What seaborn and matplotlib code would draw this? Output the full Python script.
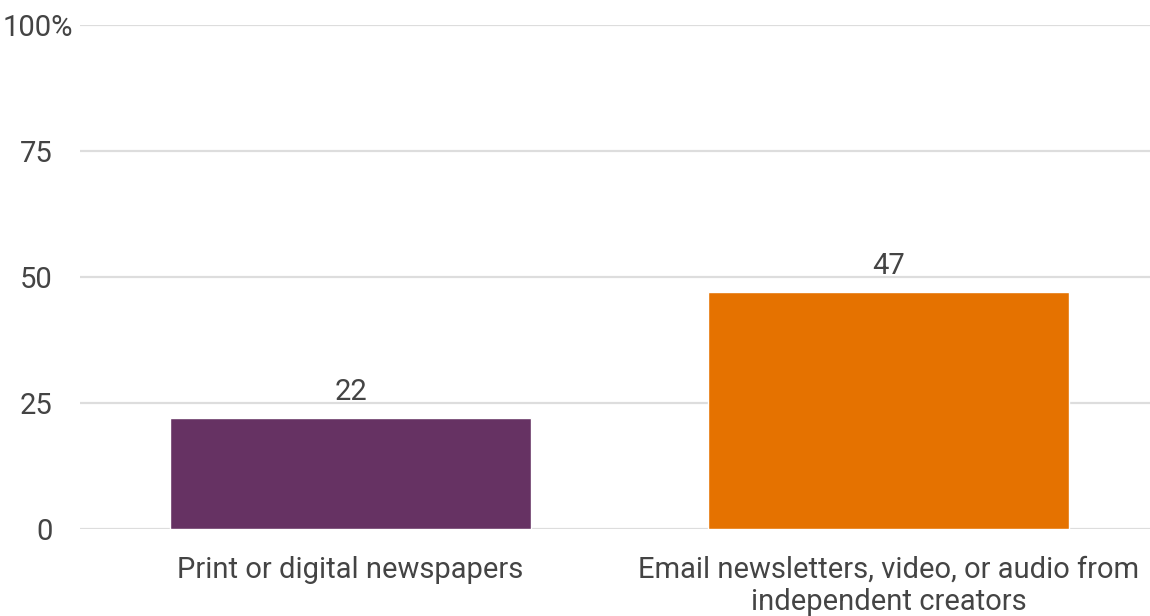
import matplotlib.pyplot as plt
import matplotlib.transforms as mtransforms
import seaborn as sns
import pandas as pd

categories = ['Print or digital newspapers',
              'Email newsletters, video, or audio from\nindependent creators']
values = [22, 47]
bar_colors = ['#663263', '#E57200']
yticks = [0, 25, 50, 75, 100]
ytick_labels = ['0', '25', '50', '75', '100%']

sns.set_style('white')
plt.rcParams['font.family'] = ['Roboto', 'DejaVu Sans']

df = pd.DataFrame({'source': categories, 'pct': values})

fig = plt.figure(figsize=(11.5, 6.16), dpi=100)
ax = fig.add_axes([0.0696, 0.141, 0.9304, 0.818])

sns.barplot(data=df, x='source', y='pct', hue='source', palette=bar_colors,
            width=0.67, legend=False, ax=ax, saturation=1)

ax.set_ylim(0, 100)
ax.set_xlim(-0.503, 1.486)
ax.set_yticks(yticks)
ax.set_yticklabels(ytick_labels)
ax.yaxis.grid(True, color='#dddddd', linewidth=1.6)
ax.set_axisbelow(True)
for s in ax.spines.values():
    s.set_visible(False)
ax.tick_params(axis='y', length=0, pad=20, labelsize=21, labelcolor='#444444')
ax.tick_params(axis='x', length=0, pad=19, labelsize=21, labelcolor='#444444')
ax.set_xlabel('')
ax.set_ylabel('')

# shift the "100%" label so the digits line up with the others
lab = ax.get_yticklabels()[-1]
lab.set_transform(lab.get_transform() +
                  mtransforms.ScaledTranslation(0.21, 0, fig.dpi_scale_trans))

for c in ax.containers:
    ax.bar_label(c, fmt='%d', padding=9, fontsize=21, color='#444444')

fig.savefig('out.png', dpi=100)
